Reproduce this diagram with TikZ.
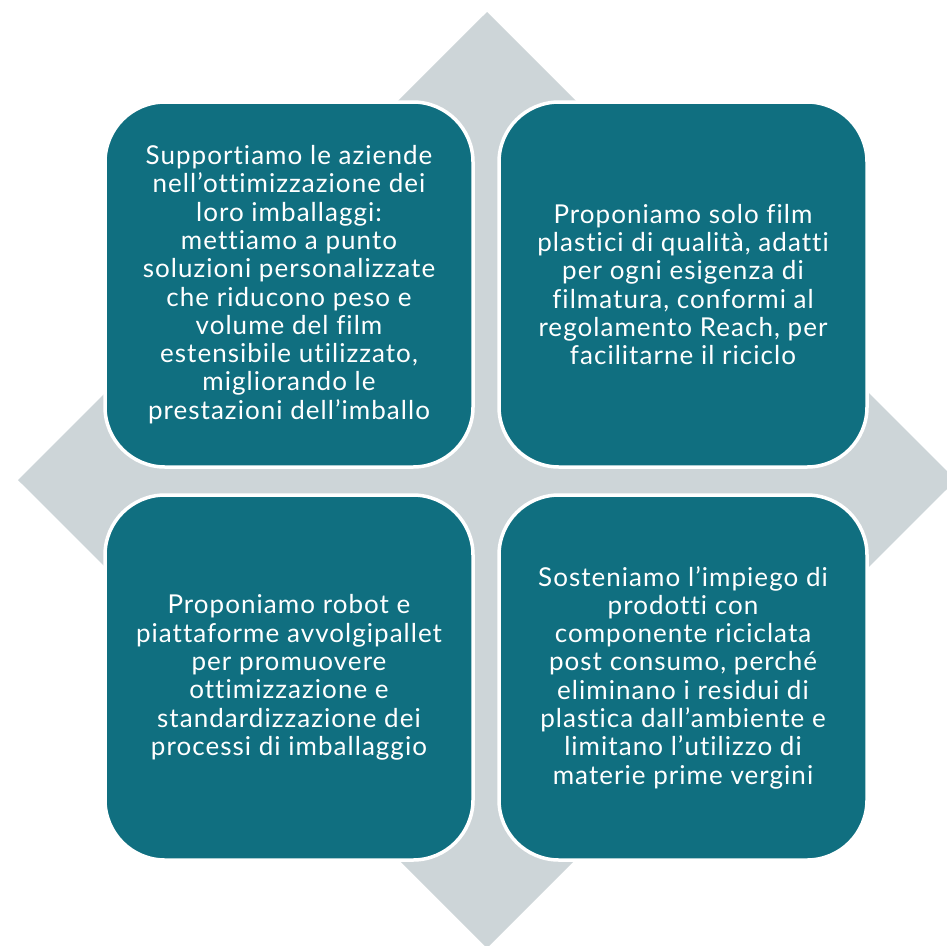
\documentclass[tikz,border=0pt]{standalone}
\usepackage{fontspec}
\setmainfont{Lato}[Ligatures=NoCommon,LetterSpace=4]

\definecolor{petrol}{RGB}{16,111,128}
\definecolor{diamondgray}{RGB}{205,213,216}

\begin{document}
\begin{tikzpicture}[x=1pt,y=-1pt,
  box/.style={fill=petrol,draw=white,line width=3.5pt,rounded corners=60pt,
    minimum width=368pt,minimum height=365pt,inner sep=0pt,
    text=white,align=center,font=\fontsize{26}{28.3}\selectfont}]
\useasboundingbox (0,0) rectangle (947,945);
\clip (0,0) rectangle (947,945);

% background diamond
\fill[diamondgray] (487,12) -- (956,480) -- (487,948) -- (18,480) -- cycle;

% the four boxes
\node[box] (support) at (289,284.5) {Supportiamo le aziende\\nell’ottimizzazione dei\\loro imballaggi:\\mettiamo a punto\\soluzioni personalizzate\\che riducono peso e\\volume del film\\estensibile utilizzato,\\migliorando le\\prestazioni dell’imballo};
\node[box] (film) at (683,284.5) {Proponiamo solo film\\plastici di qualità, adatti\\per ogni esigenza di\\filmatura, conformi al\\regolamento Reach, per\\facilitarne il riciclo};
\node[box] (robot) at (289,677.5) {Proponiamo robot e\\piattaforme avvolgipallet\\per promuovere\\ottimizzazione e\\standardizzazione dei\\processi di imballaggio};
\node[box] (recycle) at (683,677.5) {Sosteniamo l’impiego di\\prodotti con\\componente riciclata\\post consumo, perché\\eliminano i residui di\\plastica dall’ambiente e\\limitano l’utilizzo di\\materie prime vergini};

\end{tikzpicture}
\end{document}
